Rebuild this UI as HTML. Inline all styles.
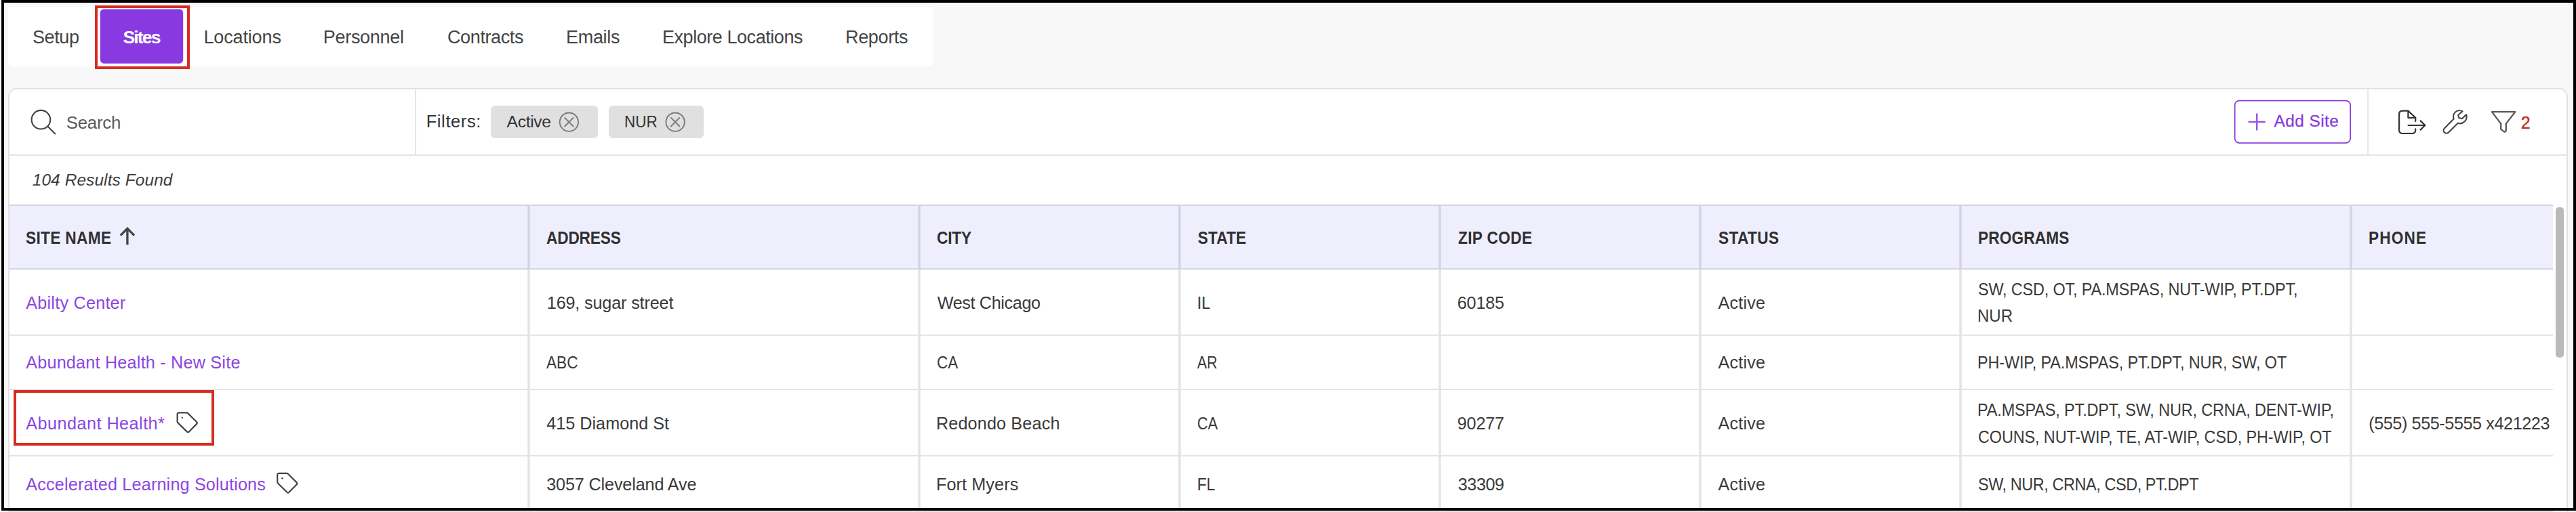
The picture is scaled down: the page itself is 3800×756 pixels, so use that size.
<!DOCTYPE html>
<html lang="en">
<head>
<meta charset="utf-8">
<title>Sites</title>
<style>
html,body{margin:0;padding:0;background:#fff;}
body{width:3800px;height:756px;position:relative;overflow:hidden;font-family:"Liberation Sans", sans-serif;}
#bg{position:absolute;left:0;top:0;width:3800px;height:756px;display:block;}
.t{position:absolute;white-space:nowrap;font-family:"Liberation Sans", sans-serif;-webkit-font-smoothing:antialiased;}
#frame{position:absolute;left:0;top:0;width:3800px;height:756px;display:block;pointer-events:none;}
</style>
</head>
<body>
<svg id="bg" width="3800" height="756" viewBox="0 0 3800 756">
<rect x="0" y="0" width="3800" height="756" fill="#fff"/>
<rect x="4" y="2" width="3794" height="750" fill="#f8f8f8"/>
<rect x="11.8" y="9.8" width="1364.4" height="88.2" rx="6.5" fill="#fff"/>
<path d="M13 760 V142.8 a12 12 0 0 1 12 -12 H3775 a12 12 0 0 1 12 12 V760 Z" fill="#fff" stroke="#e0e0e0" stroke-width="1.9"/>
<path d="M14 229 H3786 M613 131.7 V228.2 M3493.1 131.7 V228.2" stroke="#e4e4e4" stroke-width="1.9" fill="none"/>
<rect x="13.95" y="303" width="3751.95" height="94" fill="#efeefd"/>
<path d="M13.95 303 H3765.9 M13.95 397 H3765.9" stroke="#d4d3e6" stroke-width="1.9" fill="none"/>
<rect x="778.25" y="303.9" width="3.5" height="92.2" fill="#d4d3e6"/>
<rect x="778.25" y="397.9" width="3.5" height="360" fill="#e4e4e4"/>
<rect x="1354.25" y="303.9" width="3.5" height="92.2" fill="#d4d3e6"/>
<rect x="1354.25" y="397.9" width="3.5" height="360" fill="#e4e4e4"/>
<rect x="1738.25" y="303.9" width="3.5" height="92.2" fill="#d4d3e6"/>
<rect x="1738.25" y="397.9" width="3.5" height="360" fill="#e4e4e4"/>
<rect x="2122.25" y="303.9" width="3.5" height="92.2" fill="#d4d3e6"/>
<rect x="2122.25" y="397.9" width="3.5" height="360" fill="#e4e4e4"/>
<rect x="2506.25" y="303.9" width="3.5" height="92.2" fill="#d4d3e6"/>
<rect x="2506.25" y="397.9" width="3.5" height="360" fill="#e4e4e4"/>
<rect x="2890.25" y="303.9" width="3.5" height="92.2" fill="#d4d3e6"/>
<rect x="2890.25" y="397.9" width="3.5" height="360" fill="#e4e4e4"/>
<rect x="3466.25" y="303.9" width="3.5" height="92.2" fill="#d4d3e6"/>
<rect x="3466.25" y="397.9" width="3.5" height="360" fill="#e4e4e4"/>
<path d="M13.95 495 H3765.9 M13.95 575 H3765.9 M13.95 673 H3765.9 M13.95 755 H3765.9" stroke="#e4e4e4" stroke-width="1.9" fill="none"/>
<rect x="3770" y="305.9" width="12" height="222" rx="5" fill="#bababa"/>
<rect x="147.8" y="13.6" width="122.4" height="80.1" rx="5.5" fill="#883ae0"/>
<rect x="142" y="10" width="136" height="90" fill="none" stroke="#d62d20" stroke-width="4"/>
<rect x="22" y="578" width="292" height="78" fill="none" stroke="#d62d20" stroke-width="4"/>
<g fill="none" stroke="#444" stroke-width="2.1" stroke-linecap="round"><circle cx="60.4" cy="176.7" r="13.8"/><path d="M70.3 186.6 L81.2 197.4"/></g>
<rect x="724.1" y="155.9" width="157.9" height="48.2" rx="6.5" fill="#e0e0e0"/>
<rect x="898" y="155.9" width="140.1" height="48.2" rx="6.5" fill="#e0e0e0"/>
<g fill="none" stroke="#7a7a7a" stroke-width="1.9" stroke-linecap="round"><circle cx="839.4" cy="180.2" r="13.7"/><path d="M833.1 173.9 L845.6999999999999 186.5 M845.6999999999999 173.9 L833.1 186.5"/></g>
<g fill="none" stroke="#7a7a7a" stroke-width="1.9" stroke-linecap="round"><circle cx="996.1" cy="180.2" r="13.7"/><path d="M989.8000000000001 173.9 L1002.4 186.5 M1002.4 173.9 L989.8000000000001 186.5"/></g>
<rect x="3296.7" y="148.6" width="170.5" height="62.6" rx="7" fill="#fff" stroke="#883ae0" stroke-width="1.7"/>
<path d="M3316.6 180 H3341.8 M3329.2 167.5 V192.6" stroke="#883ae0" stroke-width="2.6" fill="none" opacity="0.85"/>
<g fill="none" stroke="#333" stroke-width="2.2" stroke-linejoin="round" stroke-linecap="round"><path d="M3563.2 179 V173.8 L3552.4 163.6 H3543.5 a4.4 4.4 0 0 0 -4.4 4.4 V192.6 a4.4 4.4 0 0 0 4.4 4.4 H3558.8 a4.4 4.4 0 0 0 4.4 -4.4 V190.4"/><path d="M3552.4 163.6 V173.8 H3563.2"/><path d="M3552.6 185 H3577 M3570.6 178.4 L3577.4 185 L3570.6 191.6"/></g>
<g fill="none" stroke="#444" stroke-width="2.1" stroke-linejoin="round" stroke-linecap="round"><path d="M3632.6 164.4 C3629 162.4 3624.4 162.9 3621.6 165.9 C3619.2 168.5 3618.5 172.2 3619.7 175.6 L3605.9 189.4 a4.3 4.3 0 0 0 6.1 6.1 L3625.8 181.7 C3629.2 182.9 3633 182.2 3635.6 179.6 C3638.5 176.7 3639.3 172.6 3638 169.2 L3631.9 175.3 L3627.4 174.1 L3626.2 169.7 Z"/></g>
<g fill="none" stroke="#5a5a5a" stroke-width="2.3" stroke-linejoin="round" stroke-linecap="round"><path d="M3676 165.2 H3710.2 L3696.8 182.6 V193.2 L3694.6 194.8 L3689.2 190.8 V182.6 Z"/></g>
<path d="M187.9 361.6 V338.4 M177.8 347.6 L187.9 337.4 L198 347.6" fill="none" stroke="#444" stroke-width="3.3" stroke-linejoin="miter"/>
<g transform="translate(260.6 608.2)" fill="none" stroke="#444" stroke-width="2.2" stroke-linejoin="round"><path d="M3.2 1.2 H14.8 a2.4 2.4 0 0 1 1.7 0.7 L29.4 14.8 a2.2 2.2 0 0 1 0 3.1 L18.2 29.2 a2.2 2.2 0 0 1 -3.1 0 L1.7 15.9 A2.4 2.4 0 0 1 1 14.2 V3.4 A2.2 2.2 0 0 1 3.2 1.2 Z"/><circle cx="8.2" cy="8.6" r="1.2" fill="#444" stroke="none"/></g>
<g transform="translate(408.2 697.6)" fill="none" stroke="#444" stroke-width="2.2" stroke-linejoin="round"><path d="M3.2 1.2 H14.8 a2.4 2.4 0 0 1 1.7 0.7 L29.4 14.8 a2.2 2.2 0 0 1 0 3.1 L18.2 29.2 a2.2 2.2 0 0 1 -3.1 0 L1.7 15.9 A2.4 2.4 0 0 1 1 14.2 V3.4 A2.2 2.2 0 0 1 3.2 1.2 Z"/><circle cx="8.2" cy="8.6" r="1.2" fill="#444" stroke="none"/></g>
</svg>
<nav class="tabs">
<span class="t" style="left:48.00px;top:42.00px;font-size:27.0px;line-height:27.0px;color:#444;letter-spacing:-0.387px">Setup</span>
<span class="t" style="left:181.50px;top:42.00px;font-size:26.6px;line-height:26.6px;color:#fff;letter-spacing:-1.897px;font-weight:700">Sites</span>
<span class="t" style="left:300.40px;top:42.00px;font-size:27.0px;line-height:27.0px;color:#444;letter-spacing:-0.137px">Locations</span>
<span class="t" style="left:476.80px;top:42.00px;font-size:27.0px;line-height:27.0px;color:#444;letter-spacing:-0.299px">Personnel</span>
<span class="t" style="left:660.00px;top:42.00px;font-size:27.0px;line-height:27.0px;color:#444;letter-spacing:-0.381px">Contracts</span>
<span class="t" style="left:835.00px;top:42.00px;font-size:27.0px;line-height:27.0px;color:#444;letter-spacing:-0.303px">Emails</span>
<span class="t" style="left:977.00px;top:42.00px;font-size:27.0px;line-height:27.0px;color:#444;letter-spacing:-0.446px">Explore Locations</span>
<span class="t" style="left:1247.00px;top:42.00px;font-size:27.0px;line-height:27.0px;color:#444;letter-spacing:-0.341px">Reports</span>
</nav>
<section class="toolbar">
<span class="t" style="left:97.75px;top:169.00px;font-size:25.8px;line-height:25.8px;color:#5c5c5c;letter-spacing:-0.251px">Search</span>
<span class="t" style="left:628.70px;top:167.00px;font-size:25.4px;line-height:25.4px;color:#333;letter-spacing:0.638px">Filters:</span>
<span class="t" style="left:747.60px;top:168.00px;font-size:24.6px;line-height:24.6px;color:#333;letter-spacing:-0.321px">Active</span>
<span class="t" style="left:920.77px;top:168.00px;font-size:24.6px;line-height:24.6px;color:#333;transform:scaleX(0.9142);transform-origin:0 0">NUR</span>
<span class="t" style="left:3354.44px;top:167.00px;font-size:24.4px;line-height:24.4px;color:#883ae0;letter-spacing:0.452px;-webkit-text-stroke:0.3px #883ae0">Add Site</span>
<span class="t" style="left:3718.82px;top:169.00px;font-size:25.0px;line-height:25.0px;color:#c4302b;-webkit-text-stroke:0.4px #c4302b">2</span>
<span class="t" style="left:47.70px;top:254.00px;font-size:24.4px;line-height:24.4px;color:#3c3c3c;letter-spacing:0.126px;font-style:italic">104 Results Found</span>
</section>
<section class="grid">
<div class="thead">
<span class="t" style="left:38.20px;top:339.00px;font-size:25.2px;line-height:25.2px;color:#303030;letter-spacing:0.358px;transform:scaleX(0.9);transform-origin:0 0;font-weight:700">SITE NAME</span>
<span class="t" style="left:806.30px;top:339.00px;font-size:25.2px;line-height:25.2px;color:#303030;letter-spacing:-0.192px;transform:scaleX(0.9);transform-origin:0 0;font-weight:700">ADDRESS</span>
<span class="t" style="left:1381.50px;top:339.00px;font-size:25.2px;line-height:25.2px;color:#303030;letter-spacing:-0.192px;transform:scaleX(0.9);transform-origin:0 0;font-weight:700">CITY</span>
<span class="t" style="left:1766.70px;top:339.00px;font-size:25.2px;line-height:25.2px;color:#303030;letter-spacing:0.104px;transform:scaleX(0.9);transform-origin:0 0;font-weight:700">STATE</span>
<span class="t" style="left:2150.60px;top:339.00px;font-size:25.2px;line-height:25.2px;color:#303030;letter-spacing:0.376px;transform:scaleX(0.9);transform-origin:0 0;font-weight:700">ZIP CODE</span>
<span class="t" style="left:2534.50px;top:339.00px;font-size:25.2px;line-height:25.2px;color:#303030;letter-spacing:0.424px;transform:scaleX(0.9);transform-origin:0 0;font-weight:700">STATUS</span>
<span class="t" style="left:2917.90px;top:339.00px;font-size:25.2px;line-height:25.2px;color:#303030;letter-spacing:0.145px;transform:scaleX(0.9);transform-origin:0 0;font-weight:700">PROGRAMS</span>
<span class="t" style="left:3494.00px;top:339.00px;font-size:25.2px;line-height:25.2px;color:#303030;letter-spacing:1.222px;transform:scaleX(0.9);transform-origin:0 0;font-weight:700">PHONE</span>
</div>
<div class="tbody">
<span class="t" style="left:38.20px;top:435.00px;font-size:25.2px;line-height:25.2px;color:#8b46e3;letter-spacing:0.240px">Abilty Center</span>
<span class="t" style="left:806.80px;top:435.00px;font-size:25.2px;line-height:25.2px;color:#3a3a3a;letter-spacing:-0.152px">169, sugar street</span>
<span class="t" style="left:1382.70px;top:435.00px;font-size:25.2px;line-height:25.2px;color:#3a3a3a;letter-spacing:-0.356px">West Chicago</span>
<span class="t" style="left:1766.17px;top:435.00px;font-size:25.2px;line-height:25.2px;color:#3a3a3a;transform:scaleX(0.9154);transform-origin:0 0">IL</span>
<span class="t" style="left:2149.80px;top:435.00px;font-size:25.2px;line-height:25.2px;color:#3a3a3a;letter-spacing:-0.210px">60185</span>
<span class="t" style="left:2534.40px;top:435.00px;font-size:25.2px;line-height:25.2px;color:#3a3a3a;letter-spacing:0.223px">Active</span>
<span class="t" style="left:2918.07px;top:415.00px;font-size:25.2px;line-height:25.2px;color:#3a3a3a;letter-spacing:-0.172px;transform:scaleX(0.93);transform-origin:0 0">SW, CSD, OT, PA.MSPAS, NUT-WIP, PT.DPT,</span>
<span class="t" style="left:2917.09px;top:454.00px;font-size:25.2px;line-height:25.2px;color:#3a3a3a;transform:scaleX(0.9544);transform-origin:0 0">NUR</span>
<span class="t" style="left:38.20px;top:523.00px;font-size:25.2px;line-height:25.2px;color:#8b46e3;letter-spacing:0.215px">Abundant Health - New Site</span>
<span class="t" style="left:806.00px;top:523.00px;font-size:25.2px;line-height:25.2px;color:#3a3a3a;transform:scaleX(0.8991);transform-origin:0 0">ABC</span>
<span class="t" style="left:1381.81px;top:523.00px;font-size:25.2px;line-height:25.2px;color:#3a3a3a;transform:scaleX(0.8889);transform-origin:0 0">CA</span>
<span class="t" style="left:1766.10px;top:523.00px;font-size:25.2px;line-height:25.2px;color:#3a3a3a;transform:scaleX(0.8532);transform-origin:0 0">AR</span>
<span class="t" style="left:2534.40px;top:523.00px;font-size:25.2px;line-height:25.2px;color:#3a3a3a;letter-spacing:0.223px">Active</span>
<span class="t" style="left:2917.14px;top:523.00px;font-size:25.2px;line-height:25.2px;color:#3a3a3a;letter-spacing:-0.135px;transform:scaleX(0.93);transform-origin:0 0">PH-WIP, PA.MSPAS, PT.DPT, NUR, SW, OT</span>
<span class="t" style="left:38.30px;top:613.00px;font-size:25.2px;line-height:25.2px;color:#8b46e3;letter-spacing:0.476px">Abundant Health*</span>
<span class="t" style="left:806.20px;top:613.00px;font-size:25.2px;line-height:25.2px;color:#3a3a3a;letter-spacing:0.021px">415 Diamond St</span>
<span class="t" style="left:1380.90px;top:613.00px;font-size:25.2px;line-height:25.2px;color:#3a3a3a;letter-spacing:0.154px">Redondo Beach</span>
<span class="t" style="left:1766.13px;top:613.00px;font-size:25.2px;line-height:25.2px;color:#3a3a3a;transform:scaleX(0.8713);transform-origin:0 0">CA</span>
<span class="t" style="left:2149.80px;top:613.00px;font-size:25.2px;line-height:25.2px;color:#3a3a3a;letter-spacing:-0.210px">90277</span>
<span class="t" style="left:2534.40px;top:613.00px;font-size:25.2px;line-height:25.2px;color:#3a3a3a;letter-spacing:0.223px">Active</span>
<span class="t" style="left:2917.34px;top:593.00px;font-size:25.2px;line-height:25.2px;color:#3a3a3a;letter-spacing:-0.134px;transform:scaleX(0.93);transform-origin:0 0">PA.MSPAS, PT.DPT, SW, NUR, CRNA, DENT-WIP,</span>
<span class="t" style="left:2918.27px;top:633.00px;font-size:25.2px;line-height:25.2px;color:#3a3a3a;letter-spacing:-0.117px;transform:scaleX(0.93);transform-origin:0 0">COUNS, NUT-WIP, TE, AT-WIP, CSD, PH-WIP, OT</span>
<span class="t" style="left:3494.20px;top:613.00px;font-size:25.2px;line-height:25.2px;color:#3a3a3a;letter-spacing:-0.409px">(555) 555-5555 x421223</span>
<span class="t" style="left:38.30px;top:703.00px;font-size:25.2px;line-height:25.2px;color:#8b46e3;letter-spacing:0.170px">Accelerated Learning Solutions</span>
<span class="t" style="left:806.20px;top:703.00px;font-size:25.2px;line-height:25.2px;color:#3a3a3a;letter-spacing:-0.141px">3057 Cleveland Ave</span>
<span class="t" style="left:1380.90px;top:703.00px;font-size:25.2px;line-height:25.2px;color:#3a3a3a;letter-spacing:0.117px">Fort Myers</span>
<span class="t" style="left:1765.90px;top:703.00px;font-size:25.2px;line-height:25.2px;color:#3a3a3a;transform:scaleX(0.9015);transform-origin:0 0">FL</span>
<span class="t" style="left:2150.80px;top:703.00px;font-size:25.2px;line-height:25.2px;color:#3a3a3a;letter-spacing:-0.460px">33309</span>
<span class="t" style="left:2534.40px;top:703.00px;font-size:25.2px;line-height:25.2px;color:#3a3a3a;letter-spacing:0.223px">Active</span>
<span class="t" style="left:2918.27px;top:703.00px;font-size:25.2px;line-height:25.2px;color:#3a3a3a;letter-spacing:-0.443px;transform:scaleX(0.93);transform-origin:0 0">SW, NUR, CRNA, CSD, PT.DPT</span>
</div>
</section>
<svg id="frame" width="3800" height="756" viewBox="0 0 3800 756">
<rect x="4" y="2" width="3794" height="750" fill="none" stroke="#000" stroke-width="4"/>
</svg>
</body>
</html>
